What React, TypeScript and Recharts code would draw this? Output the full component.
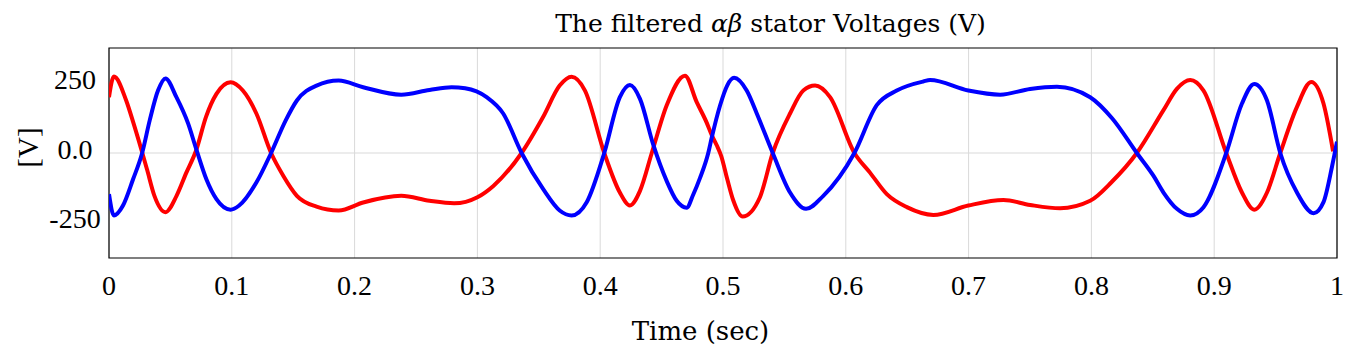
import React from 'react';
import { LineChart, Line, XAxis, YAxis, CartesianGrid, ReferenceArea } from 'recharts';

// Time stamps (s) and filtered alpha voltage (red)
const timeAlpha = [
  0, 0.004, 0.014, 0.02, 0.0265, 0.031, 0.037, 0.046, 0.055, 0.063, 0.071, 0.079, 0.0875, 0.099,
  0.109, 0.12, 0.132, 0.142, 0.153, 0.169, 0.187, 0.207, 0.238, 0.261, 0.281, 0.3, 0.313, 0.336,
  0.3536, 0.367, 0.3767, 0.3876, 0.4033, 0.416, 0.4242, 0.4324, 0.442, 0.4541, 0.469, 0.4786,
  0.4867, 0.4908, 0.4949, 0.4985, 0.5035, 0.5084, 0.516, 0.53, 0.5405, 0.5546, 0.5654, 0.575, 0.5872, 0.607,
  0.6197, 0.6334, 0.6497, 0.6713, 0.6998, 0.7284, 0.7501, 0.7745, 0.799, 0.8165, 0.837, 0.8587,
  0.8696, 0.8805, 0.8913, 0.9098, 0.9226, 0.9326, 0.943, 0.9538, 0.9674, 0.979, 0.989, 0.9968,
];
const voltAlpha = [
  202, 277, 190, 107, 10, -60, -155, -214, -155, -71, 10, 131, 214, 256,
  226, 143, 0, -83, -155, -194, -208, -179, -155, -173, -182, -160, -119, 0,
  131, 244, 276, 226, 0, -143, -190, -137, 0, 172, 280, 184,
  110, 65, 28, -10, -95, -172, -230, -161, 0, 143, 226, 244, 202, 0,
  -71, -149, -196, -224, -190, -170, -188, -200, -173, -105, 0, 155,
  232, 264, 226, 0, -143, -205, -143, 0, 167, 257, 179, 6,
];

// Time stamps (s) and filtered beta voltage (blue)
const timeBeta = [
  0, 0.004, 0.0114, 0.0196, 0.027, 0.0332, 0.0399, 0.046, 0.0549, 0.0644, 0.0712, 0.0793, 0.0875,
  0.099, 0.106, 0.12, 0.132, 0.144, 0.153, 0.169, 0.187, 0.207, 0.238, 0.261, 0.279, 0.29, 0.3075,
  0.321, 0.336, 0.3536, 0.367, 0.3767, 0.389, 0.4033, 0.416, 0.4242, 0.4324, 0.4432, 0.4541,
  0.4623, 0.4704, 0.4758, 0.4813, 0.488, 0.4908, 0.4976, 0.5035, 0.509, 0.5193, 0.5275, 0.5405, 0.5546, 0.5676,
  0.5817, 0.607, 0.6252, 0.6415, 0.6632, 0.6686, 0.6998, 0.7257, 0.7501, 0.7719, 0.799, 0.817,
  0.837, 0.8506, 0.8587, 0.8696, 0.8805, 0.8913, 0.9098, 0.9226, 0.9326, 0.943, 0.9538, 0.9674,
  0.981, 0.989, 0.996, 1,
];
const voltBeta = [
  -149, -226, -190, -95, 0, 119, 226, 270, 202, 107, 12, -95, -167,
  -205, -190, -107, 0, 119, 190, 244, 262, 238, 211, 228, 238, 234, 202,
  143, 0, -131, -208, -226, -178, 0, 202, 246, 196, 30, -101,
  -173, -198, -150, -90, 0, 55, 172, 245, 272, 226, 143, 0, -143, -202,
  -155, 0, 173, 226, 259, 264, 226, 211, 232, 240, 202, 125,
  0, -83, -143, -202, -226, -196, 0, 179, 250, 190, 0, -143,
  -218, -178, -48, 41,
];

const xTicks = [0, 0.1, 0.2, 0.3, 0.4, 0.5, 0.6, 0.7, 0.8, 0.9, 1];
const xTickLabels = ['0', '0.1', '0.2', '0.3', '0.4', '0.5', '0.6', '0.7', '0.8', '0.9', '1'];
const yTicks = [-250, 0, 250];
const yTickLabels = ['-250', '0.0', '250'];
const yDomain = [-380, 380];

const titleText = 'The filtered ';
const titleGreek = 'αβ';
const titleRest = ' stator Voltages (V)';
const xLabel = 'Time (sec)';
const yLabel = '[V]';

const alphaData = timeAlpha.map((t, i) => ({ t, v: voltAlpha[i] }));
const betaData = timeBeta.map((t, i) => ({ t, v: voltBeta[i] }));

const TICK_FONT = 'Liberation Serif';
const LABEL_FONT = 'DejaVu Serif';

const XTick = (props: any) => {
  const { x, y, payload } = props;
  const idx = xTicks.indexOf(payload.value);
  return (
    <text x={x} y={y + 37} textAnchor="middle" fontFamily={TICK_FONT} fontSize={28} fill="#000">
      {idx >= 0 ? xTickLabels[idx] : String(payload.value)}
    </text>
  );
};

const YTick = (props: any) => {
  const { x, y, payload } = props;
  const idx = yTicks.indexOf(payload.value);
  return (
    <text x={x - 34} y={y + 5.5} textAnchor="middle" fontFamily={TICK_FONT} fontSize={28} fill="#000">
      {idx >= 0 ? yTickLabels[idx] : String(payload.value)}
    </text>
  );
};

export default function App() {
  return (
    <div style={{ position: 'absolute', left: 0, top: 0, width: 1352, height: 353, background: '#fff' }}>
      <LineChart width={1352} height={353} margin={{ top: 48, right: 15, bottom: 0, left: 0 }}>
        <CartesianGrid stroke="#d9d9d9" strokeWidth={1} horizontalValues={[0]} />
        <XAxis
          type="number"
          dataKey="t"
          domain={[0, 1]}
          ticks={xTicks}
          interval={0}
          tick={<XTick />}
          tickLine={false}
          axisLine={false}
          tickSize={0}
          tickMargin={0}
          height={95}
          allowDataOverflow
        />
        <YAxis
          type="number"
          domain={yDomain}
          ticks={yTicks}
          interval={0}
          tick={<YTick />}
          tickLine={false}
          axisLine={false}
          tickSize={0}
          tickMargin={0}
          width={109}
          allowDataOverflow
        />
        <ReferenceArea x1={0} x2={1} y1={yDomain[0]} y2={yDomain[1]} fill="none" fillOpacity={0} stroke="#000" strokeWidth={1.2} />
        <Line data={alphaData} dataKey="v" type="monotone" stroke="#ff0000" strokeWidth={4} dot={false} activeDot={false} isAnimationActive={false} />
        <Line data={betaData} dataKey="v" type="monotone" stroke="#0000ff" strokeWidth={4} dot={false} activeDot={false} isAnimationActive={false} />
      </LineChart>
      <svg width={1352} height={353} style={{ position: 'absolute', left: 0, top: 0, pointerEvents: 'none' }}>
        <text x={770.5} y={32} textAnchor="middle" fontFamily={LABEL_FONT} fontSize={25} fill="#000">
          {titleText}
          <tspan fontStyle="italic">{titleGreek}</tspan>
          {titleRest}
        </text>
        <text x={700.5} y={340} textAnchor="middle" fontFamily={LABEL_FONT} fontSize={26} fill="#000">
          {xLabel}
        </text>
        <text transform="translate(38,147.5) rotate(-90)" x={0} y={0} textAnchor="middle" fontFamily={TICK_FONT} fontSize={29} fill="#000">
          {yLabel}
        </text>
      </svg>
    </div>
  );
}
